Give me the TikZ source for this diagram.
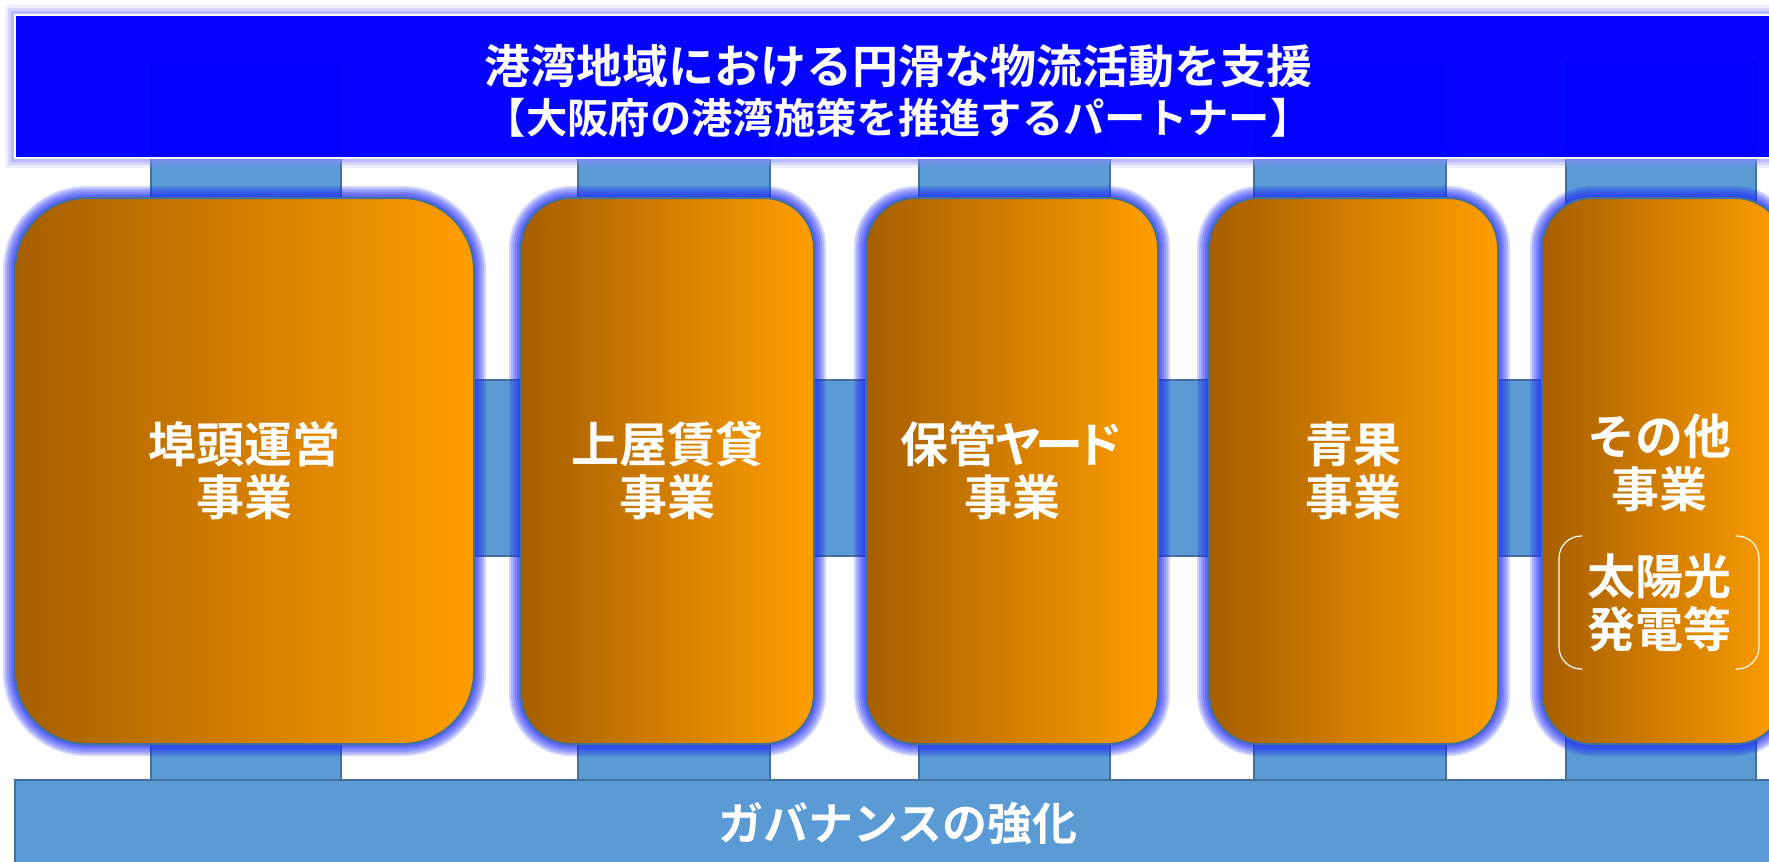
\documentclass[tikz,border=0pt]{standalone}
\usepackage{fontspec}
\setmainfont{Noto Sans CJK JP}[BoldFont={* Bold}]
\pgfdeclarelayer{bars}
\pgfdeclarelayer{glow}
\pgfsetlayers{bars,glow,main}
\definecolor{bannerblue}{RGB}{0,0,255}
\definecolor{barblue}{RGB}{91,155,213}
\definecolor{edgeblue}{RGB}{65,113,156}
\definecolor{orleft}{RGB}{166,94,0}
\definecolor{orright}{RGB}{255,158,0}
\definecolor{glowblue}{RGB}{30,45,245}
\definecolor{glowlav}{RGB}{140,140,255}
\tikzset{
  barrect/.style={fill=barblue, draw=edgeblue, line width=0.6pt},
  bizbox/.style={rectangle, draw=edgeblue, line width=0.6pt, left color=orleft, right color=orright,
    minimum height=163.8pt, inner sep=0pt, outer sep=0pt, text=white, align=center,
    font=\bfseries\fontsize{14.4pt}{15.9pt}\selectfont},
  boxtext/.style={inner sep=0pt, outer sep=0pt, text=white, align=center,
    font=\bfseries\fontsize{14.4pt}{15.9pt}\selectfont},
  banner/.style={rectangle, fill=bannerblue, fill opacity=0.985, draw=white, line width=0.6pt,
    minimum width=529.8pt, minimum height=42.9pt, inner sep=0pt, outer sep=0pt},
  titletext/.style={inner sep=0pt, text=white, align=center,
    font=\bfseries\fontsize{13.8pt}{15pt}\selectfont},
  govbar/.style={rectangle, fill=barblue, draw=edgeblue, line width=0.6pt,
    minimum width=529.8pt, minimum height=25.8pt, inner sep=0pt, outer sep=0pt, text=white,
    font=\bfseries\fontsize{13.5pt}{15pt}\selectfont},
  bracketline/.style={draw=white, line width=0.35pt, rounded corners=6.6pt},
}
\newcommand\glowaround[2]{%
  \foreach \w in {7.2, 6.0, 4.8, 3.6, 2.4, 1.4}
    \draw[glowblue, line width=\w pt, opacity=0.2, rounded corners=#2] (#1.north west) rectangle (#1.south east);%
}
\begin{document}
\begin{tikzpicture}[x=0.3pt,y=-0.3pt]
\useasboundingbox (0,0) rectangle (1769,861);
\begin{pgfonlayer}{bars}
  \foreach \a/\b in {151/341,578/770,919/1110,1254/1446,1566/1756}{
    \draw[barrect] (\a,62) rectangle (\b,220);
    \draw[barrect] (\a,720) rectangle (\b,780);
  }
  \draw[barrect] (400,380) rectangle (1600,556);
\end{pgfonlayer}

\node[banner] (top) at (898,86.5) {};
\node[titletext] (title) at (898,91) {港湾地域における円滑な物流活動を支援\\{\fontsize{12.4pt}{15pt}\selectfont 【大阪府の港湾施策を推進するパートナー】}};

\node[govbar] (gov) at (898,823) {ガバナンスの強化};

\node[bizbox, minimum width=137.7pt, rounded corners=21.6pt] (b1) at (244.5,471) {埠頭運営\\事業};
\node[bizbox, minimum width=87.9pt, rounded corners=15pt] (b2) at (667.5,471) {上屋賃貸\\事業};
\node[bizbox, minimum width=87.6pt, rounded corners=15pt] (b3) at (1012,471) {保管\kern-0.6ptヤ\kern-2.2ptー\kern-2.2ptド\\事業};
\node[bizbox, minimum width=86.7pt, rounded corners=15pt] (b4) at (1353.5,471) {青果\\事業};
\node[bizbox, minimum width=72.9pt, rounded corners=15pt] (b5) at (1663.5,471) {};
\node[boxtext] (b5t) at (1659,463) {その他\\事業};
\node[boxtext, minimum width=60pt, minimum height=39.9pt] (solar) at (1659,602.5) {太陽光\\発電等};
\draw[bracketline] ([xshift=7pt]solar.north west) -- (solar.north west) -- (solar.south west) -- ([xshift=7pt]solar.south west);
\draw[bracketline] ([xshift=-7pt]solar.north east) -- (solar.north east) -- (solar.south east) -- ([xshift=-7pt]solar.south east);

\begin{pgfonlayer}{glow}
  \glowaround{b1}{21.6pt}
  \glowaround{b2}{15pt}
  \glowaround{b3}{15pt}
  \glowaround{b4}{15pt}
  \glowaround{b5}{15pt}
  \foreach \w/\o in {6/0.15, 4/0.25, 2.4/0.4}
    \draw[glowlav, line width=\w pt, opacity=\o] (top.north west) rectangle (top.south east);
\end{pgfonlayer}
\end{tikzpicture}
\end{document}
